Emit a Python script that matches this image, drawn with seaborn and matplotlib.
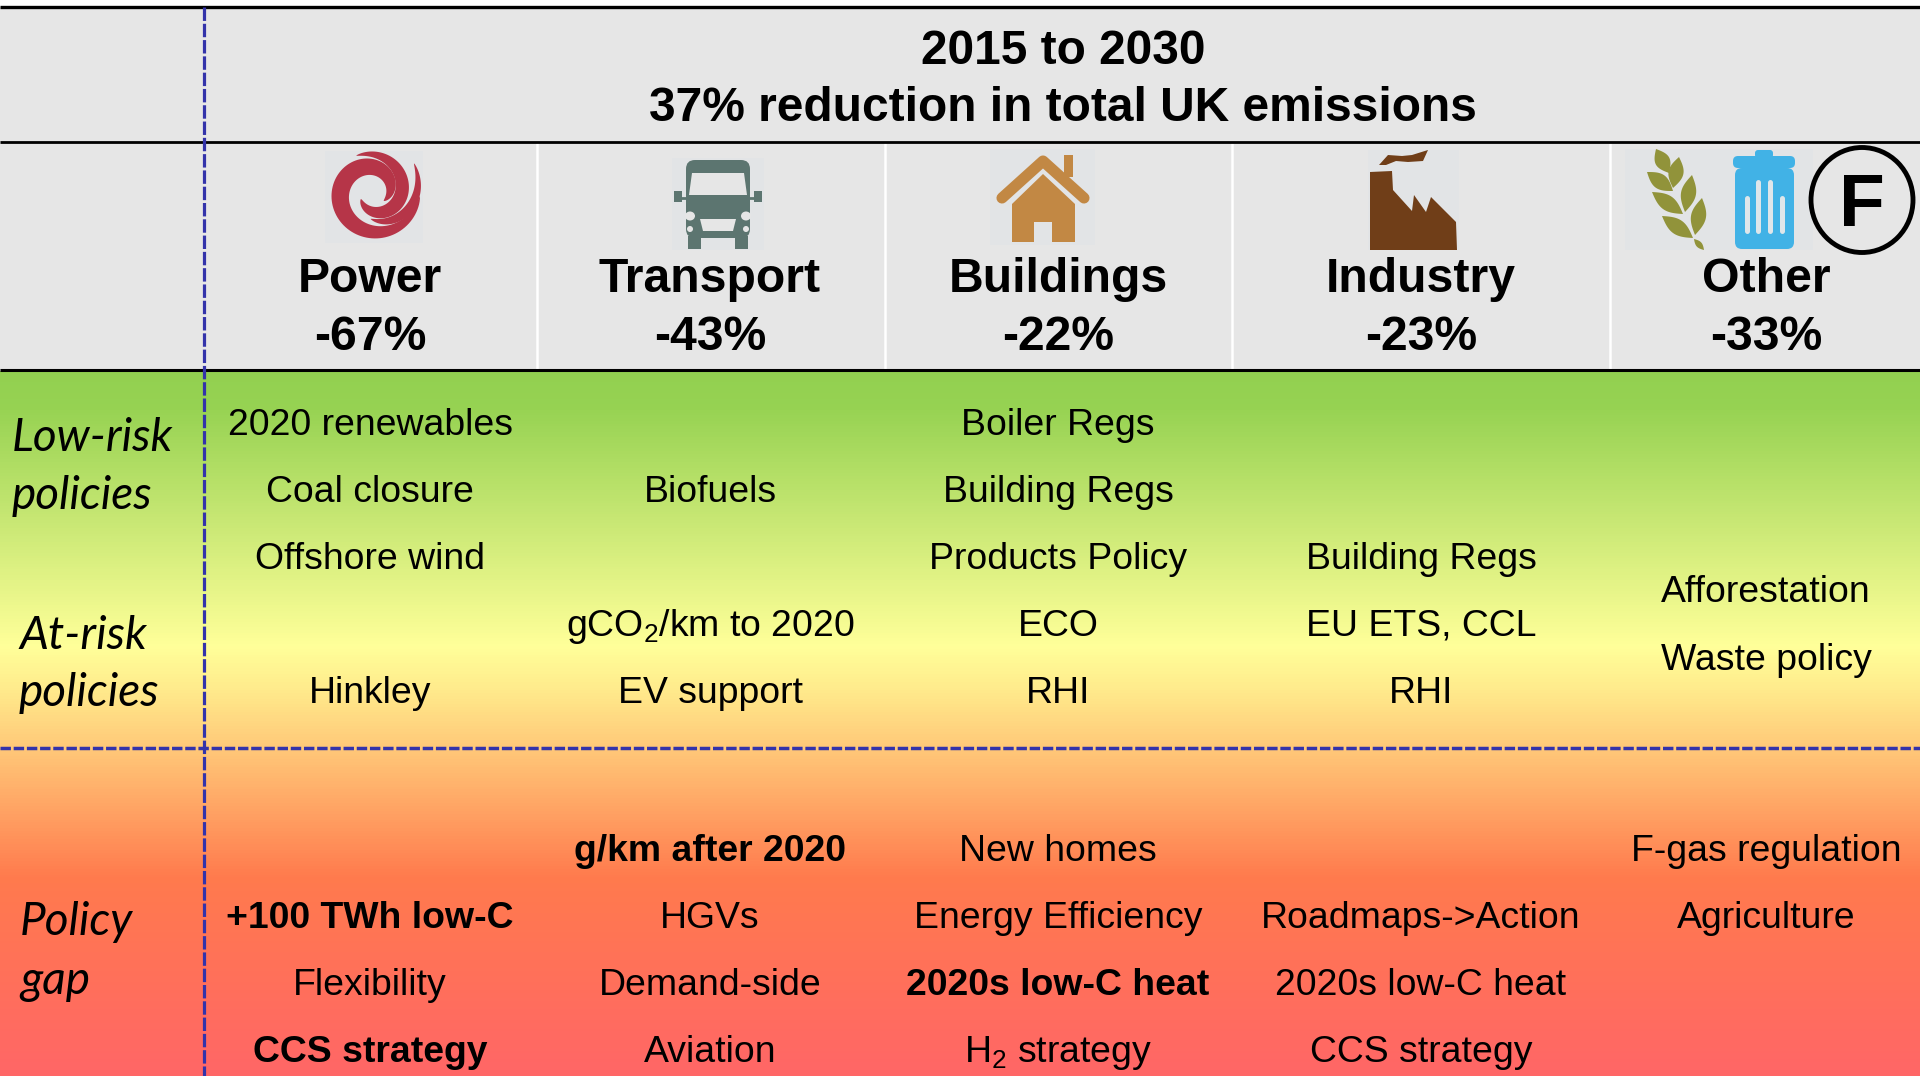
import numpy as np
import matplotlib
matplotlib.use('Agg')
import matplotlib.pyplot as plt
import seaborn as sns
from matplotlib.colors import LinearSegmentedColormap
from matplotlib.patches import Rectangle, Ellipse, Polygon, FancyBboxPatch

sns.set_theme(style='white')
plt.rcParams['font.family'] = ['Liberation Sans', 'DejaVu Sans']
plt.rcParams['mathtext.default'] = 'regular'
plt.rcParams['text.color'] = 'black'

W, H = 1920, 1076

title_lines = ['2015 to 2030', '37% reduction in total UK emissions']
sectors = ['Power', 'Transport', 'Buildings', 'Industry', 'Other']
reductions = ['-67%', '-43%', '-22%', '-23%', '-33%']
side_labels = ['Low-risk', 'policies', 'At-risk', 'policies', 'Policy', 'gap']

# (row number, text, bold)
power_items = [(0, '2020 renewables', False), (1, 'Coal closure', False), (2, 'Offshore wind', False),
               (4, 'Hinkley', False), (6, '+100 TWh low-C', True), (7, 'Flexibility', False),
               (8, 'CCS strategy', True)]
transport_items = [(1, 'Biofuels', False), (3, 'gCO$_2$/km to 2020', False), (4, 'EV support', False),
                   (5, 'g/km after 2020', True), (6, 'HGVs', False), (7, 'Demand-side', False),
                   (8, 'Aviation', False)]
buildings_items = [(0, 'Boiler Regs', False), (1, 'Building Regs', False), (2, 'Products Policy', False),
                   (3, 'ECO', False), (4, 'RHI', False), (5, 'New homes', False),
                   (6, 'Energy Efficiency', False), (7, '2020s low-C heat', True), (8, 'H$_2$ strategy', False)]
industry_items = [(2, 'Building Regs', False), (3, 'EU ETS, CCL', False), (4, 'RHI', False),
                  (6, 'Roadmaps->Action', False), (7, '2020s low-C heat', False), (8, 'CCS strategy', False)]
other_items = [(5, 'F-gas regulation', False), (6, 'Agriculture', False)]
other_upper = ['Afforestation', 'Waste policy']

col_x = [370, 710, 1058, 1421, 1766]
row_y = [435, 502, 569, 636, 703, 861, 928, 995, 1062]
other_upper_y = [602, 670]
side_x = [12, 12, 19, 19, 20, 20]
side_y = [451, 509, 649, 706, 935, 994]
sep_x = [537, 885, 1232, 1610]

fig = plt.figure(figsize=(19.2, 10.76), dpi=100, facecolor='white')

# gradient band under the header
top = 371
grad_stops = [(0.0, '#92d050'), (0.05, '#96d252'), (0.39, '#ffff99'), (0.45, '#ffeb8c'),
              (0.535, '#ffc878'), (0.72, '#ff7a4d'), (1.0, '#ff6666')]
grad_cmap = LinearSegmentedColormap.from_list('risk', grad_stops)
ax_bg = fig.add_axes([0, 0, 1, (H - top) / H])
sns.heatmap(np.linspace(0, 1, H - top).reshape(-1, 1), ax=ax_bg, cmap=grad_cmap, vmin=0, vmax=1,
            cbar=False, xticklabels=False, yticklabels=False, rasterized=True)

ax = fig.add_axes([0, 0, 1, 1])
ax.set_xlim(0, W)
ax.set_ylim(H, 0)
ax.axis('off')

ax.add_patch(Rectangle((0, 7), W, top - 7, fc='#e6e6e6', ec='none', zorder=1))
for x in sep_x:
    ax.plot([x, x], [143, 369], color='white', lw=1.8, zorder=2)
for y, lw in [(7, 2.4), (141.5, 2.0), (370, 2.2)]:
    ax.plot([0, W], [y, y], color='black', lw=lw, zorder=3, solid_capstyle='butt')

ax.plot([204, 204], [7, H], color='#3333aa', lw=2.3, ls=(0, (4.2, 0.9)), zorder=4)
ax.plot([0, W], [748, 748], color='#3333aa', lw=2.5, ls=(0, (3, 0.8)), zorder=4)


def icon_box(x0, x1, y0, y1):
    ax.add_patch(Rectangle((x0, y0), x1 - x0, y1 - y0, fc='#e2e4e6', ec='none', zorder=2))


def swirl():
    icon_box(325, 423, 151, 243)
    red = '#b63548'
    # tapered arms winding inwards, clockwise on screen
    for a0, a1, r0, r1, w in [(5, 400, 47, 14, 9), (-115, 150, 40, 14, 7), (-35, 95, 50, 27, 4.5)]:
        t = np.radians(np.linspace(a0, a1, 120))
        r = np.linspace(r0, r1, 120)
        half = w * np.sin(np.linspace(0, np.pi, 120)) ** 0.7
        xs = np.r_[373 + (r + half) * np.cos(t), (373 + (r - half) * np.cos(t))[::-1]]
        ys = np.r_[192 + (r + half) * np.sin(t), (192 + (r - half) * np.sin(t))[::-1]]
        ax.add_patch(Polygon(np.c_[xs, ys], fc=red, ec='none', zorder=3))


def van():
    icon_box(672, 764, 158, 250)
    c = '#5c7570'
    ax.add_patch(FancyBboxPatch((686, 160), 64, 78, boxstyle='round,pad=0,rounding_size=9', fc=c, ec='none', zorder=3))
    ax.add_patch(Rectangle((674, 191), 8, 11, fc=c, ec='none', zorder=3))
    ax.add_patch(Rectangle((754, 191), 8, 11, fc=c, ec='none', zorder=3))
    ax.plot([680, 690], [198, 198], color=c, lw=2, zorder=3)
    ax.plot([747, 756], [198, 198], color=c, lw=2, zorder=3)
    ax.add_patch(Polygon([[692, 173], [744, 173], [747, 195], [689, 195]], fc='#e6e6e6', ec='none', zorder=4))
    ax.add_patch(Rectangle((688, 236), 13, 13, fc=c, ec='none', zorder=3))
    ax.add_patch(Rectangle((735, 236), 13, 13, fc=c, ec='none', zorder=3))
    for x in (690, 746):
        ax.add_patch(Ellipse((x, 216), 10, 9, fc='#e6e6e6', ec='none', zorder=4))
        ax.add_patch(Ellipse((x, 229), 6, 6, fc='#e6e6e6', ec='none', zorder=4))
    ax.add_patch(Polygon([[700, 219], [736, 219], [733, 231], [703, 231]], fc='#e6e6e6', ec='none', zorder=4))


def house():
    icon_box(990, 1095, 149, 245)
    c = '#c28844'
    ax.plot([1002, 1043, 1084], [198, 161, 198], color=c, lw=8, solid_capstyle='round', solid_joinstyle='round', zorder=3)
    ax.add_patch(Rectangle((1064, 155), 9, 22, fc=c, ec='none', zorder=3))
    ax.add_patch(Polygon([[1043, 174], [1075, 204], [1075, 242], [1012, 242], [1012, 204]], fc=c, ec='none', zorder=3))
    ax.add_patch(Rectangle((1034, 222), 18, 21, fc='#e2e4e6', ec='none', zorder=4))


def factory():
    icon_box(1368, 1459, 150, 250)
    c = '#703e18'
    ax.add_patch(Polygon([[1370, 172], [1392, 171], [1393, 190], [1412, 211], [1414, 195], [1426, 212],
                          [1431, 197], [1456, 222], [1457, 250], [1370, 250]], fc=c, ec='none', zorder=3))
    ax.add_patch(Polygon([[1379, 165], [1388, 155], [1402, 156], [1412, 155], [1428, 150], [1423, 161],
                          [1408, 162], [1396, 161], [1386, 165]], fc=c, ec='none', zorder=3))


def leaf(x0, y0, x1, y1, bulge=7.5):
    # pointed leaf between two tips, pixel coordinates
    s = np.linspace(0, 1, 40)
    dx, dy = x1 - x0, y1 - y0
    nx, ny = -dy / np.hypot(dx, dy), dx / np.hypot(dx, dy)
    b = bulge * np.sin(np.pi * s)
    xs = np.r_[x0 + dx * s + nx * b, (x0 + dx * s - nx * b)[::-1]]
    ys = np.r_[y0 + dy * s + ny * b, (y0 + dy * s - ny * b)[::-1]]
    ax.add_patch(Polygon(np.c_[xs, ys], fc='#91933a', ec='none', zorder=3))


def other_icons():
    icon_box(1625, 1813, 149, 250)
    for tips in [(1656, 149, 1669, 173), (1679, 157, 1673, 188), (1647, 172, 1673, 191),
                 (1692, 175, 1685, 212), (1652, 192, 1683, 214), (1702, 198, 1695, 235),
                 (1662, 216, 1693, 238)]:
        leaf(*tips)
    leaf(1694, 239, 1704, 250, bulge=3)
    b = '#41b2e6'
    ax.add_patch(FancyBboxPatch((1755, 150), 18, 8, boxstyle='round,pad=0,rounding_size=3', fc=b, ec='none', zorder=3))
    ax.add_patch(FancyBboxPatch((1733, 156), 62, 12, boxstyle='round,pad=0,rounding_size=5', fc=b, ec='none', zorder=3))
    ax.add_patch(FancyBboxPatch((1735, 168), 59, 81, boxstyle='round,pad=0,rounding_size=7', fc=b, ec='none', zorder=3))
    for x, y0 in [(1747, 198), (1758, 182), (1770, 182), (1782, 198)]:
        ax.plot([x, x], [y0, 231], color='#dfe6ea', lw=3.6, solid_capstyle='round', zorder=4)
    ax.add_patch(Ellipse((1862, 200), 102, 105, fc='#e6e6e6', ec='black', lw=3.5, zorder=5))
    ax.text(1862, 226, 'F', fontsize=54, fontweight='bold', ha='center', va='baseline', zorder=6)


swirl()
van()
house()
factory()
other_icons()

# header text
ax.text(1063, 64, title_lines[0], fontsize=34.5, fontweight='bold', ha='center', va='baseline', zorder=6)
ax.text(1063, 121, title_lines[1], fontsize=34.5, fontweight='bold', ha='center', va='baseline', zorder=6)
for x, name, pct in zip(col_x, sectors, reductions):
    ax.text(x, 292, name, fontsize=34.7, fontweight='bold', ha='center', va='baseline', zorder=6)
    ax.text(x, 350, pct, fontsize=34.7, fontweight='bold', ha='center', va='baseline', zorder=6)

# policy rows
columns = [power_items, transport_items, buildings_items, industry_items, other_items]
for x, items in zip(col_x, columns):
    for row, label, bold in items:
        ax.text(x, row_y[row], label, fontsize=26.9, fontweight='bold' if bold else 'normal',
                ha='center', va='baseline', zorder=6)
for y, label in zip(other_upper_y, other_upper):
    ax.text(col_x[4], y, label, fontsize=26.9, ha='center', va='baseline', zorder=6)

for x, y, label in zip(side_x, side_y, side_labels):
    ax.text(x, y, label, fontsize=33, style='italic', family='Lato', ha='left', va='baseline', zorder=6)

fig.savefig('out.png', dpi=100)
